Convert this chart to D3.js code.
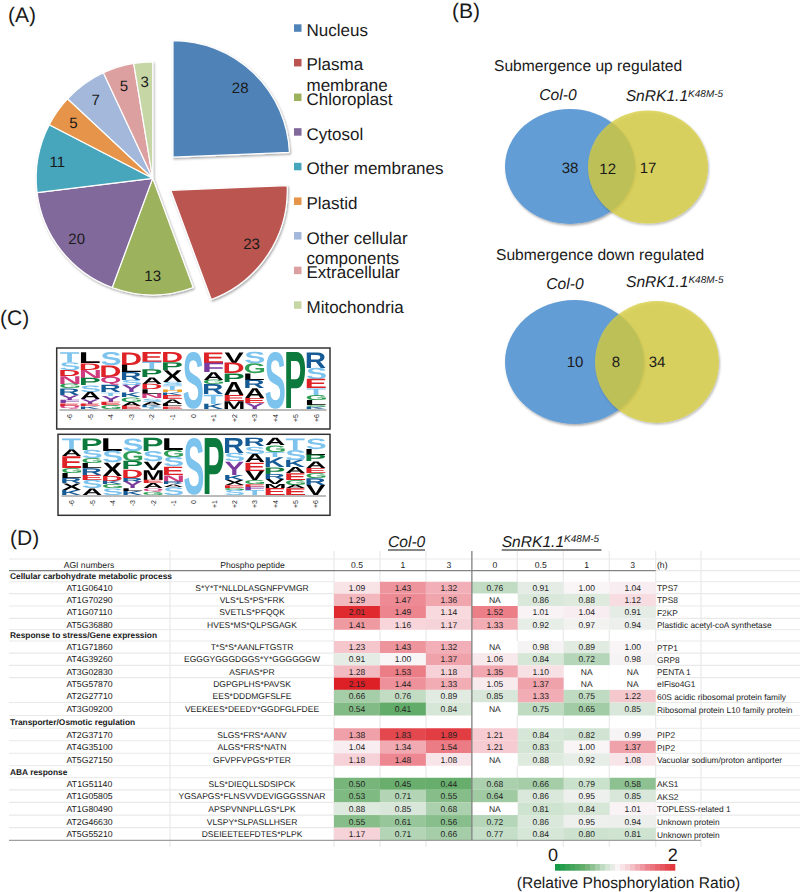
<!DOCTYPE html>
<html><head><meta charset="utf-8">
<script src="https://cdnjs.cloudflare.com/ajax/libs/d3/7.8.5/d3.min.js"></script>
<style>html,body{margin:0;padding:0;background:#fff}svg{display:block}text{font-family:"Liberation Sans",Arial,sans-serif;fill:#1a1a1a;text-rendering:geometricPrecision}</style>
</head><body><svg id="c" width="800" height="892"></svg>
<script>
// ---------- (A) pie ----------
const pieCategories=["Nucleus","Plasma membrane","Chloroplast","Cytosol","Other membranes","Plastid","Other cellular components","Extracellular","Mitochondria"];
const pieValues=[28,23,13,20,11,5,7,5,3];
const pieColors=["#5083b8","#bb5450","#9cb25c","#82699c","#47a6bc","#e59448","#a3b8da","#dda0a0","#c7d6a5"];
const pieExplode=[29.3,21.7,0,0,0,0,0,0,0];
// ---------- (B) venn ----------
const vennTitles=["Submergence up regulated","Submergence down regulated"];
const vennCounts=[[38,12,17],[10,8,34]];
// ---------- (C) sequence logos: letter, stack height (top to bottom) ----------
const logoPositions=["-6","-5","-4","-3","-2","-1","0","+1","+2","+3","+4","+5","+6"];
const logoTop=[
 [["T",30],["S",24],["D",18],["N",24],["G",14],["R",20],["Y",14],["F",10],["E",8],["Q",10]],
 [["L",33],["D",20],["N",25],["P",22],["S",20],["A",22],["Y",14],["E",8],["K",8]],
 [["S",40],["D",35],["Q",25],["R",22],["T",10],["Y",18],["E",10],["G",12]],
 [["D",38],["L",22],["R",24],["S",16],["Y",22],["K",14],["G",14],["A",12],["E",10]],
 [["E",30],["T",22],["P",24],["A",20],["D",16],["L",14],["N",14],["S",10],["A",10],["K",6],["T",6]],
 [["D",30],["P",24],["X",36],["S",10],["T",14],["H",8],["K",8],["E",12],["A",14],["L",8],["E",8]],
 [["S",172]],
 [["E",32],["F",28],["A",24],["G",14],["R",30],["T",28],["K",16]],
 [["V",32],["D",32],["P",26],["A",40],["E",18],["M",24]],
 [["S",35],["G",30],["L",20],["R",25],["A",30],["E",15],["Y",17]],
 [["S",172]],
 [["P",172]],
 [["R",47],["S",35],["E",28],["T",20],["G",15],["L",15],["G",5],["K",7]]
];
const logoBottom=[
 [["T",35],["A",20],["E",35],["G",15],["L",15],["R",15],["X",20],["K",15]],
 [["P",35],["S",25],["G",15],["L",15],["R",20],["E",15],["S",25],["A",20]],
 [["L",38],["S",35],["X",40],["D",15],["K",10],["G",12],["S",20]],
 [["S",38],["G",30],["P",25],["D",25],["R",12],["Y",20],["L",8],["K",12]],
 [["P",40],["S",30],["V",25],["M",30],["E",10],["A",15],["Q",10],["G",10]],
 [["L",35],["G",22],["S",28],["E",25],["N",20],["R",8],["A",8],["S",24]],
 [["S",170]],
 [["P",170]],
 [["R",45],["S",25],["Y",40],["K",15],["X",15],["E",8],["G",6],["S",16]],
 [["R",25],["S",22],["A",25],["E",25],["V",28],["G",12],["E",8],["F",10],["T",15]],
 [["A",22],["G",20],["T",15],["K",30],["P",20],["R",15],["V",15],["M",12],["E",21]],
 [["T",35],["S",30],["K",22],["A",18],["E",20],["G",15],["A",10],["E",20]],
 [["S",32],["L",18],["P",20],["A",20],["E",15],["G",15],["R",20],["V",30]]
];
const residueColors={S:"#7cc3ee",T:"#7cc3ee",P:"#0e7a3c",G:"#2f9e55",D:"#de2228",E:"#de2228",R:"#145a96",K:"#145a96",H:"#f0a020",L:"#000",A:"#000",V:"#000",X:"#000",M:"#000",N:"#cf3a7c",Q:"#cf3a7c",Y:"#7a3a9e",F:"#7a3a9e"};
// ---------- (D) heat table ----------
const headerTimes=["0.5","1","3","0","0.5","1","3"];
const sections=["Cellular carbohydrate metabolic process","Response to stress/Gene expression","Transporter/Osmotic regulation","ABA response"];
const tableRows=[
 [0],
 ["AT1G06410","S*Y*T*NLLDLASGNFPVMGR","TPS7",[1.09,1.43,1.32,0.76,0.91,1.00,1.04]],
 ["AT1G70290","VLS*LS*PS*FRK","TPS8",[1.29,1.47,1.36,null,0.86,0.88,1.12]],
 ["AT1G07110","SVETLS*PFQQK","F2KP",[2.01,1.49,1.14,1.52,1.01,1.04,0.91]],
 ["AT5G36880","HVES*MS*QLPSGAGK","Plastidic acetyl-coA synthetase",[1.41,1.16,1.17,1.33,0.92,0.97,0.94]],
 [1],
 ["AT1G71860","T*S*S*AANLFTGSTR","PTP1",[1.23,1.43,1.32,null,0.98,0.89,1.00]],
 ["AT4G39260","EGGGYGGGDGGS*Y*GGGGGGW","GRP8",[0.91,1.00,1.37,1.06,0.84,0.72,0.98]],
 ["AT3G02830","ASFIAS*PR","PENTA 1",[1.28,1.53,1.18,1.35,1.10,null,null]],
 ["AT5G57870","DGPGPLHS*PAVSK","eIFiso4G1",[2.15,1.44,1.33,1.05,1.37,null,null]],
 ["AT2G27710","EES*DDDMGFSLFE","60S acidic ribosomal protein family",[0.66,0.76,0.89,0.85,1.33,0.75,1.22]],
 ["AT3G09200","VEEKEES*DEEDY*GGDFGLFDEE","Ribosomal protein L10 family protein",[0.54,0.41,0.84,null,0.75,0.65,0.85]],
 [2],
 ["AT2G37170","SLGS*FRS*AANV","PIP2",[1.38,1.83,1.89,1.21,0.84,0.82,0.99]],
 ["AT4G35100","ALGS*FRS*NATN","PIP2",[1.04,1.34,1.54,1.21,0.83,1.00,1.37]],
 ["AT5G27150","GFVPFVPGS*PTER","Vacuolar sodium/proton antiporter",[1.18,1.48,1.08,null,0.88,0.92,1.08]],
 [3],
 ["AT1G51140","SLS*DIEQLLSDSIPCK","AKS1",[0.50,0.45,0.44,0.68,0.66,0.79,0.58]],
 ["AT1G05805","YGSAPGS*FLNSVVDEVIGGGSSNAR","AKS2",[0.53,0.71,0.55,0.64,0.86,0.95,0.85]],
 ["AT1G80490","APSPVNNPLLGS*LPK","TOPLESS-related 1",[0.88,0.85,0.68,null,0.81,0.84,1.01]],
 ["AT2G46630","VLSPY*SLPASLLHSER","Unknown protein",[0.55,0.61,0.56,0.72,0.86,0.95,0.94]],
 ["AT5G55210","DSEIEETEEFDTES*PLPK","Unknown protein",[1.17,0.71,0.66,0.77,0.84,0.80,0.81]]
];

const svg=d3.select("#c");
const defs=svg.append("defs");
defs.append("filter").attr("id","sh").attr("x","-10%").attr("y","-10%").attr("width","120%").attr("height","125%")
  .append("feDropShadow").attr("dx",1).attr("dy",1.5).attr("stdDeviation",1.2).attr("flood-color","#000").attr("flood-opacity",.35);
defs.append("filter").attr("id","soft").attr("x","-2%").attr("y","-2%").attr("width","104%").attr("height","104%")
  .append("feGaussianBlur").attr("stdDeviation",.45);

function label(t,x,y,size,opt={}){
  return svg.append("text").attr("x",x).attr("y",y).attr("font-size",size)
    .attr("text-anchor",opt.anchor||"start").attr("font-style",opt.italic?"italic":null)
    .attr("font-weight",opt.bold?"bold":null).text(t);
}
[["(A)",8,22],["(B)",452,18],["(C)",0,325],["(D)",10,545]].forEach(d=>label(d[0],d[1],d[2],21));

// ---- pie ----
const pieC=[152.7,178.3], R=116.5;
const arcs=d3.pie().sort(null)(pieValues);
const arcG=d3.arc().innerRadius(0).outerRadius(R);
const labelArc=d3.arc().innerRadius(97).outerRadius(97);
const gp=svg.append("g").attr("transform",`translate(${pieC})`).attr("filter","url(#sh)");
gp.selectAll("path").data(arcs).join("path")
  .attr("transform",(d,i)=>{const m=(d.startAngle+d.endAngle)/2,e=pieExplode[i];return `translate(${Math.sin(m)*e},${-Math.cos(m)*e})`;})
  .attr("d",arcG).attr("fill",(d,i)=>pieColors[i]).attr("stroke","#fff").attr("stroke-width",1.2).attr("stroke-linejoin","round");
svg.append("g").attr("transform",`translate(${pieC})`).selectAll("text").data(arcs).join("text")
  .attr("transform",(d,i)=>{const m=(d.startAngle+d.endAngle)/2,e=pieExplode[i],c=labelArc.centroid(d);return `translate(${c[0]+Math.sin(m)*e},${c[1]-Math.cos(m)*e})`;})
  .attr("text-anchor","middle").attr("dy","0.36em").attr("font-size",15).text(d=>d.value);
const legY=d3.scalePoint().domain(pieCategories).range([28,305]);
const legWrap={"Plasma membrane":["Plasma","membrane"],"Other cellular components":["Other cellular","components"]};
pieCategories.forEach((c,i)=>{
  svg.append("rect").attr("x",294).attr("y",legY(c)-3.7).attr("width",7.5).attr("height",7.5).attr("fill",pieColors[i]);
  (legWrap[c]||[c]).forEach((s,k)=>label(s,306.5,legY(c)+7.8+k*20.4,17));
});

// ---- venn ----
const vennG=[
 {blue:[570,166.5,65,57.5],yellow:[648,167,60,56.5],title:[494,71],col:[558,100],sn:[625.7,101],nums:[[570,168],[607.7,169],[648,168]]},
 {blue:[574.5,362,69.5,62],yellow:[657,362,62,61],title:[496,260],col:[565,288.7],sn:[626,287],nums:[[575,362],[616,362],[657,362]]}
];
function snrk(x,y,size,supSize,dy){
  const t=label("SnRK1.1",x,y,size,{italic:true});
  t.append("tspan").attr("font-size",supSize).attr("dy",dy).text("K48M-5");
  return t;
}
vennG.forEach((v,i)=>{
  label(vennTitles[i],v.title[0],v.title[1],15.6);
  label("Col-0",v.col[0],v.col[1],15.6,{anchor:"middle",italic:true});
  snrk(v.sn[0],v.sn[1],15.6,10,-4.5);
  const g=svg.append("g");
  [[v.blue,"#649dd6",1],[v.yellow,"#d7cd40",.77]].forEach(e=>{
    g.append("ellipse").attr("cx",e[0][0]).attr("cy",e[0][1]).attr("rx",e[0][2]).attr("ry",e[0][3])
     .attr("fill",e[1]).attr("fill-opacity",e[2]).attr("filter","url(#sh)");
  });
  vennCounts[i].forEach((n,k)=>svg.append("text").attr("x",v.nums[k][0]).attr("y",v.nums[k][1]).attr("dy","0.36em")
    .attr("text-anchor","middle").attr("font-size",15).text(n));
});

// ---- logos ----
const mctx=document.createElement("canvas").getContext("2d");
mctx.font='bold 100px "Liberation Sans"';
function glyph(ch){const m=mctx.measureText(ch);return {L:m.actualBoundingBoxLeft,R:m.actualBoundingBoxRight,A:m.actualBoundingBoxAscent,D:m.actualBoundingBoxDescent};}
function drawLogo(stacks,box,xr,yr,maxH){
  svg.append("rect").attr("x",box[0]).attr("y",box[1]).attr("width",box[2]).attr("height",box[3])
    .attr("fill","none").attr("stroke","#333").attr("stroke-width",1.5);
  const x=d3.scaleBand().domain(logoPositions).range(xr).paddingInner(.06).paddingOuter(.03);
  const y=d3.scaleLinear().domain([0,maxH]).range(yr);
  const g=svg.append("g").attr("filter","url(#soft)");
  stacks.forEach((st,ci)=>{
    let acc=maxH;
    st.forEach(([ch,h])=>{
      const m=glyph(ch),top=y(acc),bot=y(acc-h);acc-=h;
      const sx=x.bandwidth()/(m.L+m.R),sy=(bot-top)/(m.A+m.D);
      g.append("text").text(ch).attr("font-size",100).attr("font-weight","bold").style("fill",residueColors[ch])
       .attr("transform",`translate(${x(logoPositions[ci])+m.L*sx},${bot-m.D*sy}) scale(${sx},${sy})`);
    });
  });
  svg.append("line").attr("x1",xr[0]).attr("x2",xr[1]).attr("y1",yr[0]+1).attr("y2",yr[0]+1).attr("stroke","#555").attr("stroke-width",.8);
  logoPositions.forEach(p=>{
    svg.append("text").attr("transform",`translate(${x(p)+x.bandwidth()/2+2.5},${yr[0]+5}) rotate(-90)`)
      .attr("text-anchor","end").attr("font-size",7).text(p);
  });
}
drawLogo(logoTop,[56.7,348,273.3,81],[59.5,326.5],[409,352],172);
drawLogo(logoBottom,[58,434.3,272,81],[61.5,326],[495,438],170);

// ---- table ----
const rowY=d3.scaleLinear().domain([0,1,4,5,6,10,11,12,13,16,17,21])
  .range([576,587.5,624.5,635,647,696,709,722,734.5,772,783.5,834]);
const rowEdge=i=> i<0?570.7: i>=21?840:(rowY(i)+rowY(i+1))/2;
const colX=d3.scaleBand().domain(d3.range(headerTimes.length)).range([334,655.7]);
const color=d3.scaleLinear().domain([0,.45,.8,1,1.2,1.5,2,2.15])
  .range(["#169a45","#69ae6d","#cde2cf","#f9f5f7","#f6cdd3","#ec828c","#e02a30","#dd1f26"]);
const grid=svg.append("g").attr("stroke","#e9e9e9").attr("stroke-width",1.2);
[-1,0,1,2,3,4,5,6,7,8,10,11,12,13,14,15,16,17,18,19,20].forEach(i=>{
  const y=rowEdge(i);
  grid.append("line").attr("x1",9).attr("x2",334).attr("y1",y).attr("y2",y);
  grid.append("line").attr("x1",655.7).attr("x2",800).attr("y1",y).attr("y2",y);
});
grid.append("line").attr("x1",9).attr("x2",800).attr("y1",559).attr("y2",559);
[170,334,380,426,517.3,563.3,609.3,655.7,701].forEach(x=>grid.append("line").attr("x1",x).attr("x2",x).attr("y1",551).attr("y2",847));
tableRows.forEach((r,i)=>{
  if(r.length===1){ label(sections[r[0]],10,rowY(i)+3.3,8.4,{bold:true}); return; }
  const y0=rowEdge(i-1),y1=rowEdge(i);
  r[3].forEach((v,c)=>{
    svg.append("rect").attr("x",colX(c)).attr("y",y0).attr("width",colX.bandwidth()).attr("height",y1-y0)
       .attr("fill",v===null?"#fff":color(v));
    label(v===null?"NA":v.toFixed(2),colX(c)+colX.bandwidth()/2,rowY(i)+3.2,8.5,{anchor:"middle"}).style("fill","#222");
  });
  label(r[0],89.5,rowY(i)+3.2,8.7,{anchor:"middle"});
  label(r[1],252,rowY(i)+3.2,8.5,{anchor:"middle"});
  label(r[2],657,rowY(i)+3.6,8.35);
});
label("AGI numbers",89,568,8.6,{anchor:"middle"});
label("Phospho peptide",252.5,568,8.6,{anchor:"middle"});
headerTimes.forEach((t,c)=>label(t,colX(c)+colX.bandwidth()/2,568,8.6,{anchor:"middle"}));
label("(h)",657,568,8.6);
svg.append("line").attr("x1",9).attr("x2",655.7).attr("y1",570.7).attr("y2",570.7).attr("stroke","#666").attr("stroke-width",1);
svg.append("line").attr("x1",9).attr("x2",701).attr("y1",840.3).attr("y2",840.3).attr("stroke","#888").attr("stroke-width",1);
svg.append("line").attr("x1",colX(3)).attr("x2",colX(3)).attr("y1",551).attr("y2",840).attr("stroke","#808080").attr("stroke-width",1.3);
label("Col-0",388,547,15.6,{italic:true});
svg.append("line").attr("x1",388).attr("x2",425).attr("y1",550).attr("y2",550).attr("stroke","#111");
snrk(501.7,547,15.6,10,-5);
svg.append("line").attr("x1",501.7).attr("x2",601.5).attr("y1",550).attr("y2",550).attr("stroke","#111");

// ---- colour key ----
const legendX=d3.scaleLinear().domain([0,2]).range([555,675]);
const ticks=d3.range(0,2,2/24);
svg.append("g").selectAll("rect").data(ticks).join("rect")
  .attr("x",d=>legendX(d)).attr("y",864).attr("width",legendX(2/24)-legendX(0)+.3).attr("height",6.7).attr("fill",d=>color(d));
label("0",553,860.7,18,{anchor:"middle"});
label("2",672.7,860.7,18,{anchor:"middle"});
label("(Relative Phosphorylation Ratio)",628.5,888,15.6,{anchor:"middle"});
</script></body></html>
